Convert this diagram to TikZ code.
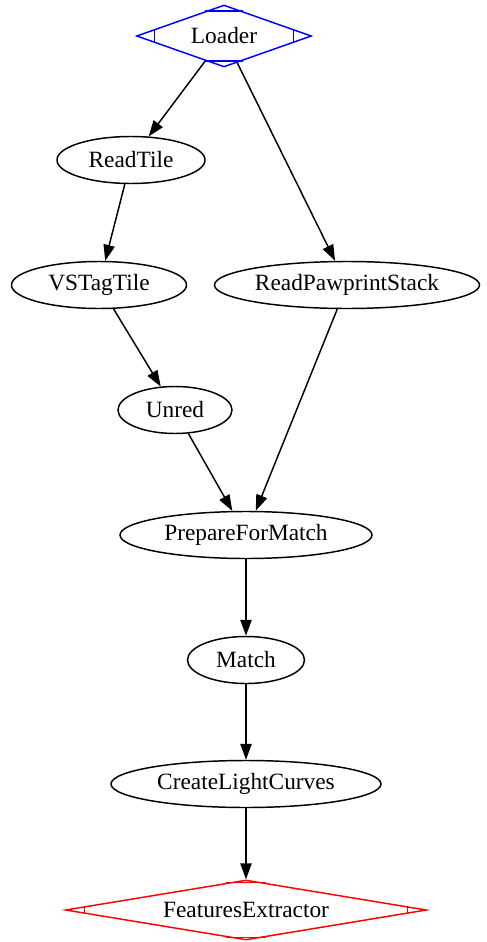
\documentclass[tikz,border=0pt]{standalone}
\usepackage{fontspec}
\setmainfont{Liberation Serif}
\usepackage{tikz}
\usetikzlibrary{arrows.meta,shapes.geometric,calc}

\begin{document}
\begin{tikzpicture}[
    x=0.75pt, y=-0.75pt,
    task/.style={ellipse, draw, line width=1.1pt, inner sep=0pt, minimum height=47*0.75pt,
                 font=\fontsize{17.5}{20}\selectfont},
    endpoint/.style={diamond, draw, line width=1.1pt, inner sep=0pt,
                     font=\fontsize{17.5}{20}\selectfont},
    arrow/.style={-{Triangle[length=12pt, width=8.5pt]}, line width=1.1pt},
]
\useasboundingbox (0,0) rectangle (486,942);

% Entry point
\node[endpoint, blue, text=black, aspect=2.8, minimum width=175*0.75pt, minimum height=62*0.75pt]
    (loader) at (224,36) {Loader};

% Tile branch
\node[task, minimum width=148*0.75pt] (readtile) at (131,160) {ReadTile};
\node[task, minimum width=175*0.75pt] (vstag) at (99,285) {VSTagTile};
\node[task, minimum width=114*0.75pt] (unred) at (175,410) {Unred};

% Pawprint branch
\node[task, minimum width=265*0.75pt] (pawprint) at (347,285) {ReadPawprintStack};

% Matching and output
\node[task, minimum width=252*0.75pt] (prepare) at (246,535) {PrepareForMatch};
\node[task, minimum width=117*0.75pt] (match) at (246,660) {Match};
\node[task, minimum width=270*0.75pt] (curves) at (246,784) {CreateLightCurves};
\node[endpoint, red, text=black, aspect=6, minimum width=361*0.75pt, minimum height=60*0.75pt]
    (features) at (246,910) {FeaturesExtractor};

% Mdiamond corner marks
\foreach \n/\c in {loader/blue, features/red} {
  \draw[\c, line width=1.1pt] ($(\n.west)!15pt!(\n.north)$) -- ($(\n.west)!15pt!(\n.south)$);
  \draw[\c, line width=1.1pt] ($(\n.east)!15pt!(\n.north)$) -- ($(\n.east)!15pt!(\n.south)$);
  \draw[\c, line width=1.1pt] ($(\n.north)!15pt!(\n.west)$) -- ($(\n.north)!15pt!(\n.east)$);
  \draw[\c, line width=1.1pt] ($(\n.south)!15pt!(\n.west)$) -- ($(\n.south)!15pt!(\n.east)$);
}

% Arrows
\draw[arrow] (loader) -- (readtile);
\draw[arrow] (loader) -- (pawprint);
\draw[arrow] (readtile) -- (vstag);
\draw[arrow] (vstag) -- (unred);
\draw[arrow] (unred) -- (prepare);
\draw[arrow] (pawprint) -- (prepare);
\draw[arrow] (prepare) -- (match);
\draw[arrow] (match) -- (curves);
\draw[arrow] (curves) -- (features);
\end{tikzpicture}
\end{document}
